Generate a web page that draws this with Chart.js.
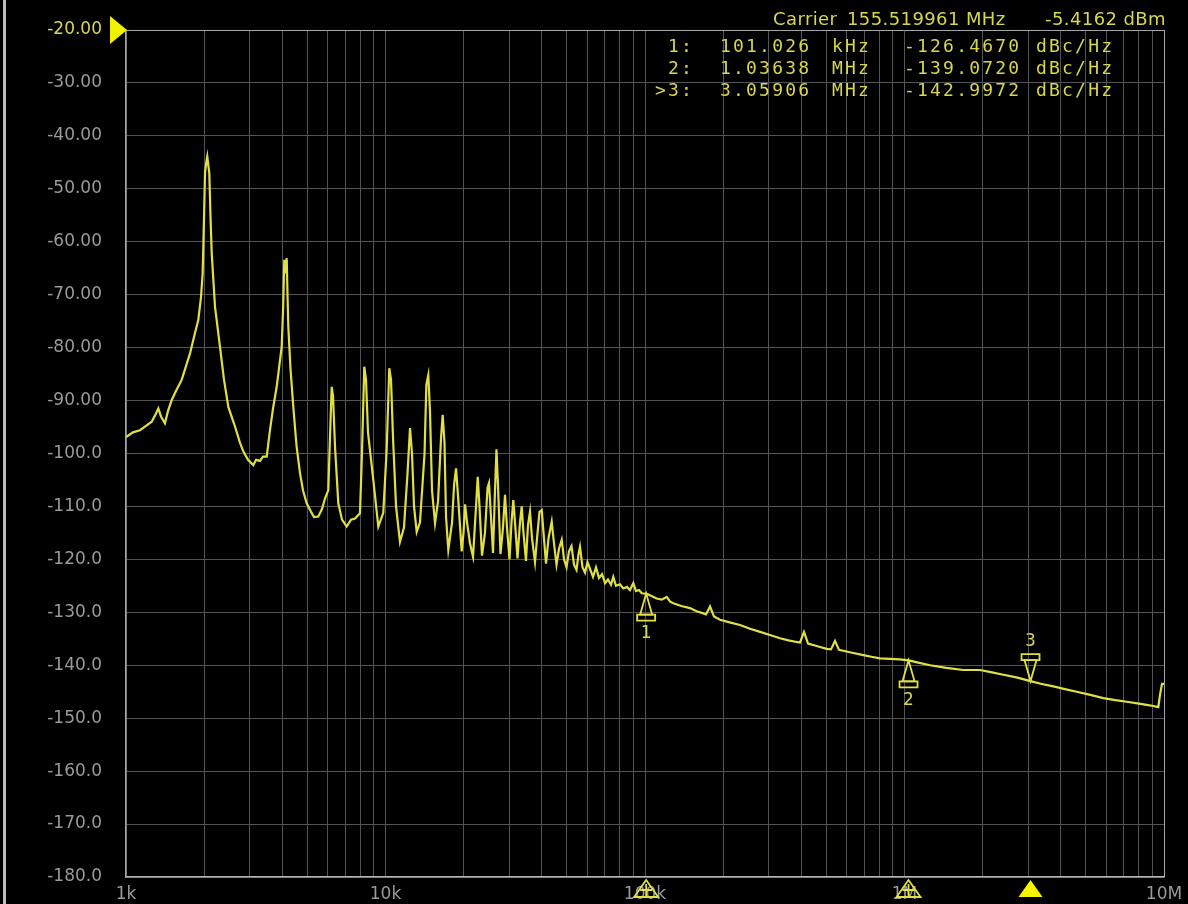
<!DOCTYPE html>
<html><head><meta charset="utf-8">
<script src="https://cdn.jsdelivr.net/npm/chart.js@4.4.0/dist/chart.umd.min.js"></script>
<style>html,body{margin:0;padding:0;background:#000;overflow:hidden}canvas{display:block}</style>
</head><body>
<canvas id="c" width="1188" height="904"></canvas>
<script>
// ---- Data (offset frequency in Hz, phase noise in dBc/Hz) ----
const lowFreqHz = [1000,1064,1132,1194,1256,1294,1332,1364,1413,1451,1500,1558,1639,1703,1765,1828,1899,1945,1974,1997,2016,2039,2057,2075,2094,2116,2139,2203,2302,2385,2479,2630,2750,2831,2952,3094,3170,3284,3373,3485,3588,3686,3808,3981,4035,4074,4118,4162,4191,4221,4304,4413,4540,4683,4810,4970,5164,5303,5508,5692,5846,6020];
const lowDbc = [-96.9,-96.0,-95.6,-94.8,-94.0,-92.8,-91.5,-93.0,-94.3,-92.0,-89.9,-88.2,-86.1,-83.5,-81.1,-78.0,-74.8,-70.5,-66.0,-56.0,-47.0,-45.0,-43.9,-45.5,-47.0,-55.0,-62.1,-72.3,-79.8,-86.0,-91.2,-94.9,-98.0,-99.6,-101.2,-102.2,-101.2,-101.4,-100.6,-100.6,-95.6,-91.5,-87.4,-79.8,-72.0,-63.4,-66.0,-63.1,-70.0,-76.0,-84.0,-91.2,-98.5,-103.7,-107.0,-109.4,-111.0,-112.0,-111.9,-110.5,-108.5,-106.9];

const combFreqHz = [6110,6204,6276,6389,6578,6798,7086,7362,7628,7973,8116,8284,8411,8561,8974,9382,9806,10110,10340,10500,10690,10980,11370,11780,12150,12430,12650,12880,13190,13580,14140,14370,14620,14840,15110,15520,15940,16370,16610,16880,17110,17460,18050,18370,18700,19030,19660,19980,20250,20610,21170,21740,22330,22670,23030,23540,24170,24720,25050,25500,25960,26420,26770,27130,27740,28360,28870,29390,30050,30590,31080,31550,32260,32980,33490,34020,34780,35410,36050,36690,37680,38530,39220,40000,40640,41550,42480,43700,44600,45600,46630,47760,48750,49840,50950,52100,53270,54470,55440,56170,57430,58720,60030,61400,63040,64750,66450,68300,70150,72000,73960,75470,77300,80100,82480,85200,87500,90150,92300,94800,97100];
const combDbc = [-97,-87.4,-89,-98.7,-109.4,-112.5,-113.8,-112.5,-112.3,-111.3,-100,-83.6,-86,-96,-105,-113.8,-111.2,-99,-83.9,-86,-97,-110,-116.7,-114,-104,-95.2,-100,-110,-114.8,-113,-100,-87,-85.2,-92,-107,-113.2,-109,-97,-92.7,-98,-112,-118.2,-113,-106,-102.8,-108,-118.5,-115,-109.6,-113,-117,-119.5,-110,-104.4,-110,-119.3,-115,-106.5,-105.6,-112,-118.8,-107,-99.2,-106,-119,-114,-107.8,-114,-120,-113,-108.8,-113,-119.8,-113,-110,-115,-120.3,-113.5,-111,-116,-120.5,-115,-111,-110.7,-115,-120.8,-116,-112.9,-117,-121,-118,-116.3,-120,-121.5,-118.5,-117.5,-121,-122,-119,-117.6,-121.5,-122.5,-120.5,-121.8,-123.3,-121.5,-123.5,-122.8,-124.5,-123.8,-124.8,-123.3,-125,-124.7,-125.5,-125.2,-125.8,-124.5,-126,-125.8,-126.4];

const tailFreqHz = [101026,104500,110900,116000,121200,125000,128600,138000,149100,158000,167800,171800,178100,184500,194500,212000,232300,254000,277500,303000,331300,357000,384200,395700,410000,424800,462000,501400,521000,539800,559300,622000,693600,745000,804600,880000,960000,1036380,1130000,1254000,1450000,1685000,1954000,2150000,2403000,2700000,3059060,3350000,3745000,4150000,4609000,5200000,5837000,6500000,7183000,7900000,8576000,9100000,9507000,9652000,9824000,10000000];
const tailDbc = [-126.47,-126.8,-127.4,-127.6,-127.1,-128.0,-128.3,-128.8,-129.2,-129.8,-130.2,-130.4,-128.9,-130.8,-131.4,-131.9,-132.4,-133.1,-133.7,-134.3,-134.9,-135.3,-135.6,-135.7,-133.7,-135.9,-136.4,-136.9,-137.0,-135.4,-137.1,-137.6,-138.1,-138.4,-138.7,-138.8,-138.9,-139.07,-139.5,-140.0,-140.5,-140.9,-140.9,-141.3,-141.8,-142.3,-143.0,-143.5,-144.0,-144.5,-145.0,-145.6,-146.2,-146.6,-146.9,-147.2,-147.5,-147.7,-147.9,-145.6,-143.5,-143.5];

// Axis ticks
const yMin = -180, yMax = -20, yStep = 10;
const xGridHz = [1e3,2e3,3e3,4e3,5e3,6e3,7e3,8e3,9e3,1e4,2e4,3e4,4e4,5e4,6e4,7e4,8e4,9e4,1e5,2e5,3e5,4e5,5e5,6e5,7e5,8e5,9e5,1e6,2e6,3e6,4e6,5e6,6e6,7e6,8e6,9e6,1e7];
const xLabelHz = [1e3,1e4,1e5,1e6,1e7];
const xLabelText = ['1k','10k','100k','1M','10M'];

// Markers
const markerNames = ['1:','2:','>3:'];
const markerFreqHz = [101026,1036380,3059060];
const markerDbc = [-126.4670,-139.0720,-142.9972];
const activeMarker = 2;
const carrierMHz = '155.519961';
const carrierDbm = '-5.4162';

// ---- rendering ----
const YEL = '#e0e044';
const TXT = '#d6d650';
const GREY = '#9a9a9a';

const freqAll = lowFreqHz.concat(combFreqHz, tailFreqHz);
const dbcAll = lowDbc.concat(combDbc, tailDbc);
const points = freqAll.map((f,i)=>({x:f,y:dbcAll[i]}));

function fmtFreq(f){
  if (f >= 1e6) return [(f/1e6).toFixed(5),'MHz'];
  return [(f/1e3).toFixed(3),'kHz'];
}

const decor = {
  id:'decor',
  beforeDraw(chart){
    const c = chart.ctx;
    c.save();
    c.fillStyle = '#000';
    c.fillRect(0,0,chart.width,chart.height);
    c.fillStyle = '#bdbdbd';
    c.fillRect(3,0,3,chart.height);
    c.restore();
  },
  afterDraw(chart){
    const c = chart.ctx;
    const xs = chart.scales.x, ys = chart.scales.y;
    const area = chart.chartArea;
    c.save();
    // reference level pointer
    const ry = ys.getPixelForValue(yMax);
    c.fillStyle = '#f2f200';
    c.beginPath(); c.moveTo(110, ry-14); c.lineTo(110, ry+14); c.lineTo(127, ry); c.closePath(); c.fill();

    // header
    c.fillStyle = TXT;
    c.font = '18px "DejaVu Sans"';
    c.textBaseline = 'alphabetic';
    c.letterSpacing = '0.4px';
    c.textAlign = 'left';
    c.fillText('Carrier', 773, 25);
    c.fillText(carrierMHz + ' MHz', 847, 25);
    c.textAlign = 'right';
    c.fillText(carrierDbm + ' dBm', 1166, 25);

    // marker table
    c.font = '18px "DejaVu Sans Mono"';
    c.letterSpacing = '2.2px';
    const rowY = [52, 74, 96];
    for (let i=0;i<markerFreqHz.length;i++){
      const [fv, fu] = fmtFreq(markerFreqHz[i]);
      c.textAlign = 'right';
      c.fillText(markerNames[i], 694, rowY[i]);
      c.textAlign = 'left';
      c.fillText(fv, 720, rowY[i]);
      c.fillText(fu, 832, rowY[i]);
      c.fillText(markerDbc[i].toFixed(4), 904, rowY[i]);
      c.fillText('dBc/Hz', 1036, rowY[i]);
    }
    c.letterSpacing = '0px';

    // markers on trace
    c.strokeStyle = YEL; c.lineWidth = 1.8;
    c.fillStyle = TXT;
    c.font = '17px "DejaVu Sans"';
    c.textAlign = 'center'; c.textBaseline = 'middle';
    for (let i=0;i<markerFreqHz.length;i++){
      const px = xs.getPixelForValue(markerFreqHz[i]);
      const py = ys.getPixelForValue(markerDbc[i]);
      const d = (i === activeMarker) ? -1 : 1;
      c.beginPath();
      c.moveTo(px, py); c.lineTo(px-6, py+d*21); c.lineTo(px+6, py+d*21); c.closePath(); c.stroke();
      c.beginPath();
      c.moveTo(px-9, py+d*21); c.lineTo(px+9, py+d*21); c.lineTo(px+9, py+d*27); c.lineTo(px-9, py+d*27); c.closePath(); c.stroke();
      c.fillText(String(i+1), px, py + d*40);

      // bottom axis pointer
      const by = area.bottom + 3;
      c.beginPath();
      c.moveTo(px, by); c.lineTo(px-12, by+17); c.lineTo(px+12, by+17); c.closePath();
      if (i === activeMarker){ c.fillStyle = '#f5f500'; c.fill(); c.fillStyle = TXT; }
      else {
        c.stroke();
        c.beginPath(); c.moveTo(px-6, by+10); c.lineTo(px+6, by+10); c.moveTo(px, by+4); c.lineTo(px, by+16); c.stroke();
      }
    }
    c.restore();
  }
};

new Chart(document.getElementById('c'), {
  type: 'line',
  data: { datasets: [{
    data: points,
    borderColor: YEL,
    borderWidth: 2.2,
    pointRadius: 0,
    tension: 0,
    fill: false
  }]},
  options: {
    responsive: false,
    animation: false,
    devicePixelRatio: 1,
    layout: { padding: { top: 30, right: 24, bottom: 0, left: 0 } },
    plugins: { legend: {display:false}, tooltip: {enabled:false} },
    scales: {
      x: {
        type: 'logarithmic',
        min: 1e3, max: 1e7,
        afterBuildTicks: s => { s.ticks = xGridHz.map(v => ({value: v})); },
        afterFit: s => { s.height = 27; s.paddingLeft = 0; s.paddingRight = 0; },
        grid: {
          color: ctx => (ctx.tick && (ctx.tick.value === 1e7)) ? '#a6a6a6' : '#545454',
          lineWidth: 1, drawTicks: false
        },
        border: { display: true, color: '#b4b4b4', width: 1.5 },
        ticks: {
          autoSkip: false, maxRotation: 0, minRotation: 0, padding: 7,
          color: GREY,
          font: { family: 'DejaVu Sans', size: 17 },
          callback: v => { const k = xLabelHz.indexOf(v); return k >= 0 ? xLabelText[k] : ''; }
        }
      },
      y: {
        type: 'linear',
        min: yMin, max: yMax,
        afterFit: s => { s.width = 126; s.paddingTop = 0; s.paddingBottom = 0; },
        grid: {
          color: ctx => (ctx.tick && ctx.tick.value === yMax) ? '#a6a6a6' : '#545454',
          lineWidth: 1, drawTicks: false
        },
        border: { display: true, color: '#a6a6a6', width: 1.5 },
        ticks: {
          stepSize: yStep, padding: 24,
          color: ctx => (ctx.tick && ctx.tick.value === yMax) ? TXT : GREY,
          font: { family: 'DejaVu Sans', size: 17 },
          callback: v => v > -100 ? v.toFixed(2) : v.toFixed(1)
        }
      }
    }
  },
  plugins: [decor]
});
</script>
</body></html>
